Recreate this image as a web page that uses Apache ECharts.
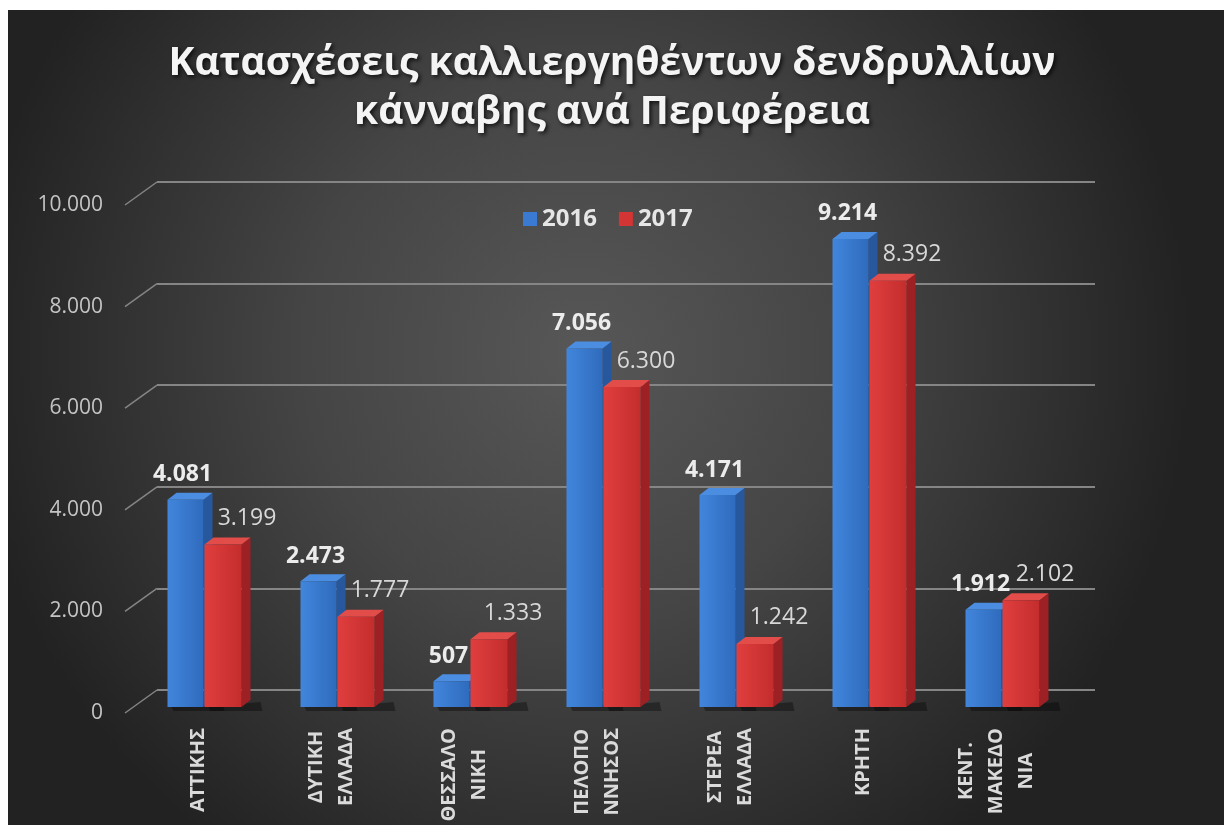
<!DOCTYPE html>
<html>
<head>
<meta charset="utf-8">
<script src="https://cdn.jsdelivr.net/npm/echarts@6/dist/echarts.min.js"></script>
<style>
html,body{margin:0;padding:0;background:#ffffff;}
#chart{width:1224px;height:825px;}
</style>
</head>
<body>
<div id="chart"></div>
<script>
// ---- data ----
const titleText = 'Κατασχέσεις καλλιεργηθέντων δενδρυλλίων\nκάνναβης ανά Περιφέρεια';
const categories = ['ΑΤΤΙΚΗΣ', 'ΔΥΤΙΚΗ\nΕΛΛΑΔΑ', 'ΘΕΣΣΑΛΟ\nΝΙΚΗ', 'ΠΕΛΟΠΟ\nΝΝΗΣΟΣ', 'ΣΤΕΡΕΑ\nΕΛΛΑΔΑ', 'ΚΡΗΤΗ', 'ΚΕΝΤ.\nΜΑΚΕΔΟ\nΝΙΑ'];
const seriesNames = ['2016', '2017'];
const values2016 = [4081, 2473, 507, 7056, 4171, 9214, 1912];
const values2017 = [3199, 1777, 1333, 6300, 1242, 8392, 2102];
const yTicks = [0, 2000, 4000, 6000, 8000, 10000];
const yMin = 0, yMax = 10000, yInterval = 2000;

function fmt(v) { return String(v).replace(/\B(?=(\d{3})+(?!\d))/g, '.'); }

const FONT = '"Open Sans", "Noto Sans", sans-serif';
const DX = 9, DY = 7;

const palette = [
  { front: ['#4186dc', '#2f6bbd'], side: '#27589d', top: '#4b8de0', label: '#ececec', weight: 'bold' },
  { front: ['#e03e3e', '#c42d2d'], side: '#9c2024', top: '#e24d4a', label: '#d8d8d8', weight: 'normal' }
];

function makeBarRender(sIdx) {
  return function (params, api) {
    const idx = api.value(0);
    const v = api.value(1);
    const top = api.coord([idx, v]);
    const base = api.coord([idx, 0]);
    const c = top[0];
    let x0, x1;
    if (sIdx === 0) { x0 = c - 36; x1 = c; } else { x0 = c + 1; x1 = c + 38; }
    const yt = top[1], yb = base[1];
    const p = palette[sIdx];
    const children = [];
    children.push({
      type: 'polygon',
      shape: { points: [[x0 + 4, yb], [x1 + DX + 10, yb - DY + 2], [x1 + DX + 12, yb + 4], [x0 + 6, yb + 4]] },
      style: { fill: 'rgba(0,0,0,0.35)' }
    });
    children.push({
      type: 'polygon',
      shape: { points: [[x1, yt], [x1 + DX, yt - DY], [x1 + DX, yb - DY], [x1, yb]] },
      style: { fill: p.side }
    });
    children.push({
      type: 'polygon',
      shape: { points: [[x0, yt], [x0 + DX, yt - DY], [x1 + DX, yt - DY], [x1, yt]] },
      style: { fill: p.top }
    });
    children.push({
      type: 'rect',
      shape: { x: x0, y: yt, width: x1 - x0, height: yb - yt },
      style: {
        fill: new echarts.graphic.LinearGradient(0, 0, 1, 0, [
          { offset: 0, color: p.front[0] }, { offset: 1, color: p.front[1] }
        ])
      }
    });
    const lx = sIdx === 0 ? (x0 + x1) / 2 - 3 : (x0 + x1) / 2 + 24;
    const ly = sIdx === 0 ? yt - 25 : yt - 26;
    children.push({
      type: 'text',
      style: {
        text: fmt(v), x: lx, y: ly, align: 'center', verticalAlign: 'middle',
        fill: p.label, fontSize: 23, fontWeight: p.weight, fontFamily: FONT
      }
    });
    return { type: 'group', children: children };
  };
}

const chart = echarts.init(document.getElementById('chart'), null, { renderer: 'canvas' });

const option = {
  backgroundColor: '#ffffff',
  animation: false,
  graphic: [{
    type: 'rect', z: -10, silent: true,
    shape: { x: 8, y: 10, width: 1216, height: 815 },
    style: {
      fill: new echarts.graphic.RadialGradient(0.47, 0.42, 0.75, [
        { offset: 0, color: '#575757' },
        { offset: 0.45, color: '#454545' },
        { offset: 1, color: '#222222' }
      ])
    }
  }],
  title: {
    text: titleText,
    left: 'center',
    top: 34,
    textStyle: {
      fontFamily: FONT, fontSize: 39, fontWeight: 'bold', color: '#f4f4f4',
      lineHeight: 49,
      textShadowColor: 'rgba(0,0,0,0.75)', textShadowBlur: 4, textShadowOffsetX: 2, textShadowOffsetY: 2
    }
  },
  legend: {
    data: seriesNames,
    left: 518, top: 202,
    itemWidth: 14, itemHeight: 14, itemGap: 22,
    icon: 'rect',
    textStyle: { fontFamily: FONT, fontSize: 24, fontWeight: 'bold', color: '#e6e6e6' }
  },
  grid: [
    { left: 157, right: 129, top: 182, bottom: 135 },   // back wall (gridlines)
    { left: 137, right: 156, top: 199, bottom: 118 },   // bars
    { left: 125, right: 168, top: 205, bottom: 112 },   // front value labels
    { left: 132, right: 161, top: 205, bottom: 112 }    // category labels
  ],
  xAxis: [
    { gridIndex: 0, type: 'value', min: 0, max: 1, show: false },
    { gridIndex: 1, type: 'category', data: categories, show: false },
    { gridIndex: 2, type: 'category', data: categories, show: false },
    {
      gridIndex: 3, type: 'category', data: categories,
      axisLine: { show: false }, axisTick: { show: false }, splitLine: { show: false },
      axisLabel: {
        interval: 0, rotate: 90, margin: 15,
        formatter: function (val) { return val.split('\n').map(s => '{c|' + s + '}').join('\n'); },
        rich: { c: { align: 'center', fontFamily: FONT, fontSize: 20, fontWeight: 'bold', color: '#dadada', lineHeight: 30 } }
      }
    }
  ],
  yAxis: [
    {
      gridIndex: 0, type: 'value', min: yMin, max: yMax, interval: yInterval,
      axisLabel: { show: false }, axisLine: { show: false }, axisTick: { show: false },
      splitLine: { show: true, lineStyle: { color: '#858585', width: 2 } }
    },
    { gridIndex: 1, type: 'value', min: yMin, max: yMax, interval: yInterval, show: false, splitLine: { show: false } },
    {
      gridIndex: 2, type: 'value', min: yMin, max: yMax, interval: yInterval,
      axisLine: { show: false }, axisTick: { show: false }, splitLine: { show: false },
      axisLabel: { margin: 22, fontFamily: FONT, fontSize: 21, color: '#c4c4c4', formatter: v => fmt(v) }
    },
    { gridIndex: 3, type: 'value', min: yMin, max: yMax, interval: yInterval, show: false, splitLine: { show: false } }
  ],
  series: [
    {
      type: 'custom', name: 'diag', xAxisIndex: 2, yAxisIndex: 2, silent: true,
      data: yTicks.map(v => [0, v]),
      renderItem: function (params, api) {
        const p = api.coord([0, api.value(1)]);
        const x = params.coordSys.x;
        return { type: 'line', shape: { x1: x, y1: p[1], x2: x + 32, y2: p[1] - 23 }, style: { stroke: '#858585', lineWidth: 1.5 } };
      }
    },
    {
      type: 'custom', name: seriesNames[0], xAxisIndex: 1, yAxisIndex: 1,
      itemStyle: { color: '#3a7ad2' },
      data: values2016.map((v, i) => [i, v]),
      renderItem: makeBarRender(0)
    },
    {
      type: 'custom', name: seriesNames[1], xAxisIndex: 1, yAxisIndex: 1,
      itemStyle: { color: '#d33434' },
      data: values2017.map((v, i) => [i, v]),
      renderItem: makeBarRender(1)
    }
  ]
};
chart.setOption(option);
</script>
</body>
</html>
